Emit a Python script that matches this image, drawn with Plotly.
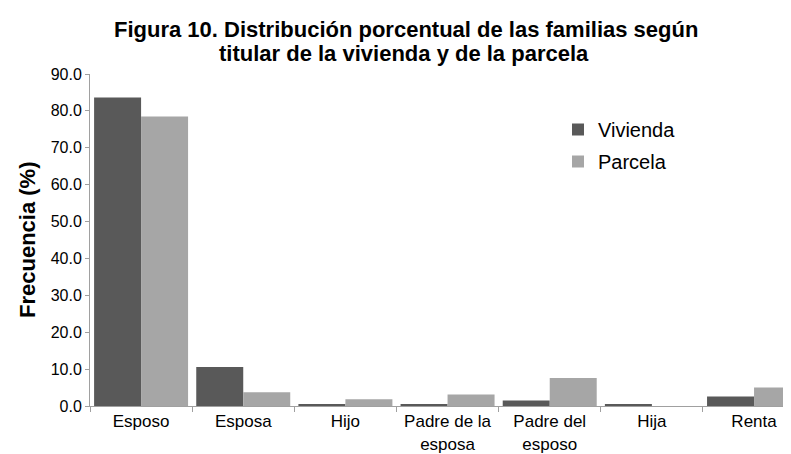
import plotly.graph_objects as go

categorias = ["Esposo", "Esposa", "Hijo", "Padre de la<br>esposa",
              "Padre del<br>esposo", "Hija", "Renta"]
vivienda = [83.6, 10.6, 0.4, 0.4, 1.5, 0.4, 2.6]
parcela = [78.5, 3.7, 1.8, 3.1, 7.6, 0.0, 5.0]
y_ticks = [0, 10, 20, 30, 40, 50, 60, 70, 80, 90]

FONT = "Liberation Sans, Arial, sans-serif"
AXIS_GRAY = "#A0A0A0"

# plot area in pixels
L, T, B, W, H = 82, 66, 56, 791, 454
PW, PH = W - L, H - T - B


def px(x):
    return (x - L) / PW


def py(y):
    return (H - B - y) / PH


fig = go.Figure()

fig.add_trace(go.Bar(
    x=categorias, y=vivienda, name="Vivienda", legendgroup="v",
    marker=dict(color="#595959", line=dict(width=0)),
))
fig.add_trace(go.Bar(
    x=categorias, y=parcela, name="Parcela", legendgroup="p",
    marker=dict(color="#A6A6A6", line=dict(width=0)),
))

fig.update_layout(
    width=W,
    height=H,
    paper_bgcolor="white",
    plot_bgcolor="white",
    font=dict(family=FONT, color="black", size=17),
    margin=dict(l=L, r=0, t=T, b=B, autoexpand=False),
    barmode="group",
    bargap=0.08,
    bargroupgap=0,
    legend=dict(
        x=px(550), y=py(102), xanchor="left", yanchor="top",
        font=dict(size=20),
        bgcolor="rgba(0,0,0,0)",
        tracegroupgap=3,
        itemwidth=30,
    ),
    xaxis=dict(
        type="category",
        range=[-0.5, 6.44],
        tickson="boundaries",
        tickangle=0,
        ticks="outside",
        ticklen=5,
        tickcolor=AXIS_GRAY,
        showline=True,
        linecolor=AXIS_GRAY,
        linewidth=1,
        showgrid=False,
        automargin=False,
        tickfont=dict(size=17),
    ),
    yaxis=dict(
        range=[0, 90],
        tickvals=y_ticks,
        tickformat=".1f",
        ticks="outside",
        ticklen=4,
        tickcolor=AXIS_GRAY,
        showline=True,
        linecolor=AXIS_GRAY,
        linewidth=1,
        showgrid=False,
        zeroline=False,
        automargin=False,
        tickfont=dict(size=16),
    ),
)

# title lines and y-axis title
fig.add_annotation(
    text="<b>Figura 10. Distribución porcentual de las familias según</b>",
    xref="paper", yref="paper", x=px(398), y=py(22),
    xanchor="center", yanchor="middle", showarrow=False,
    font=dict(size=22),
)
fig.add_annotation(
    text="<b>titular de la vivienda y de la parcela</b>",
    xref="paper", yref="paper", x=px(396), y=py(46),
    xanchor="center", yanchor="middle", showarrow=False,
    font=dict(size=22),
)
fig.add_annotation(
    text="<b>Frecuencia (%)</b>",
    xref="paper", yref="paper", x=px(19), y=py(232),
    xanchor="center", yanchor="middle", showarrow=False,
    textangle=-90, font=dict(size=22),
)

fig.write_html("out.html")
